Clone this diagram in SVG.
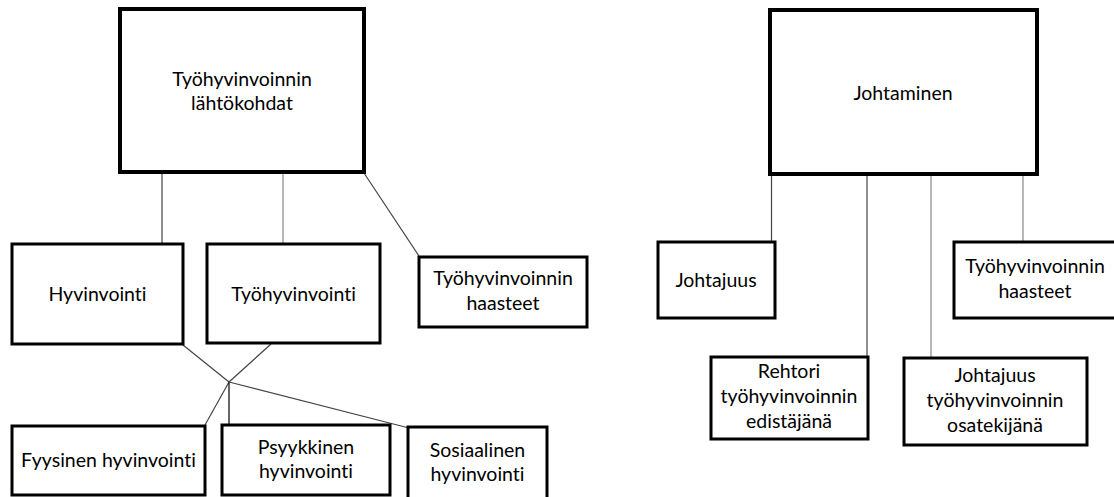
<svg xmlns="http://www.w3.org/2000/svg" width="1114" height="497" viewBox="0 0 1114 497">
<style>
.big{fill:#fff;stroke:#000;stroke-width:4}
.box{fill:#fff;stroke:#000;stroke-width:3}
.t{font-family:Lato,"Liberation Sans",sans-serif;font-size:19.5px;fill:#000;text-anchor:middle;font-variant-ligatures:none}
.c{stroke:#444;stroke-width:1.2;fill:none}
.g{stroke:#888;stroke-width:1.2;fill:none}
</style>
<rect width="1114" height="497" fill="#fff"/>
<g id="connectors">
<line class="c" x1="162" y1="173" x2="162" y2="244"/>
<line class="g" x1="283" y1="173" x2="283" y2="244"/>
<line class="c" x1="364" y1="173" x2="419" y2="256"/>
<line class="c" x1="183" y1="345" x2="229" y2="382"/>
<line class="c" x1="271" y1="344" x2="229" y2="382"/>
<line class="c" x1="229" y1="382" x2="205" y2="425"/>
<line stroke="#000" stroke-width="1.2" x1="229" y1="382" x2="229" y2="427"/>
<line class="c" x1="229" y1="382" x2="409" y2="428"/>
<line class="c" x1="771.5" y1="174" x2="771.5" y2="243"/>
<line class="c" x1="867" y1="174" x2="867" y2="357"/>
<line class="g" x1="931" y1="174" x2="931" y2="358"/>
<line class="g" x1="1023" y1="174" x2="1023" y2="243"/>
</g>
<g id="n-lahtokohdat">
<rect class="big" x="120" y="9" width="244" height="163"/>
<text class="t" x="242" y="86">Työhyvinvoinnin</text>
<text class="t" x="242" y="110">lähtökohdat</text>
</g>
<g id="n-hyvinvointi">
<rect class="box" x="12" y="244" width="171" height="100"/>
<text class="t" x="97.5" y="301">Hyvinvointi</text>
</g>
<g id="n-tyohyvinvointi">
<rect class="box" x="207" y="244" width="173" height="99"/>
<text class="t" x="293.5" y="301">Työhyvinvointi</text>
</g>
<g id="n-haasteet1">
<rect class="box" x="419" y="257" width="168" height="70"/>
<text class="t" x="503" y="285">Työhyvinvoinnin</text>
<text class="t" x="503" y="310">haasteet</text>
</g>
<g id="n-fyysinen">
<rect class="box" x="12" y="426" width="193" height="69"/>
<text class="t" x="108.5" y="467">Fyysinen hyvinvointi</text>
</g>
<g id="n-psyykkinen">
<rect class="box" x="222" y="425" width="168" height="70"/>
<text class="t" x="306" y="454">Psyykkinen</text>
<text class="t" x="306" y="478">hyvinvointi</text>
</g>
<g id="n-sosiaalinen">
<rect class="box" x="408" y="427" width="139" height="75"/>
<text class="t" x="477.5" y="457">Sosiaalinen</text>
<text class="t" x="477.5" y="481">hyvinvointi</text>
</g>
<g id="n-johtaminen">
<rect class="big" x="770" y="10" width="267" height="164"/>
<text class="t" x="903" y="100">Johtaminen</text>
</g>
<g id="n-johtajuus">
<rect class="box" x="658" y="242" width="117" height="76"/>
<text class="t" x="716" y="287">Johtajuus</text>
</g>
<g id="n-haasteet2">
<rect class="box" x="954" y="242" width="170" height="76"/>
<text class="t" x="1035" y="273">Työhyvinvoinnin</text>
<text class="t" x="1035" y="298">haasteet</text>
</g>
<g id="n-rehtori">
<rect class="box" x="711" y="357" width="157" height="82"/>
<text class="t" x="789" y="378">Rehtori</text>
<text class="t" x="789" y="403">työhyvinvoinnin</text>
<text class="t" x="789" y="428">edistäjänä</text>
</g>
<g id="n-osatekija">
<rect class="box" x="904" y="358" width="183" height="87"/>
<text class="t" x="995" y="382">Johtajuus</text>
<text class="t" x="995" y="407">työhyvinvoinnin</text>
<text class="t" x="995" y="432">osatekijänä</text>
</g>
</svg>
